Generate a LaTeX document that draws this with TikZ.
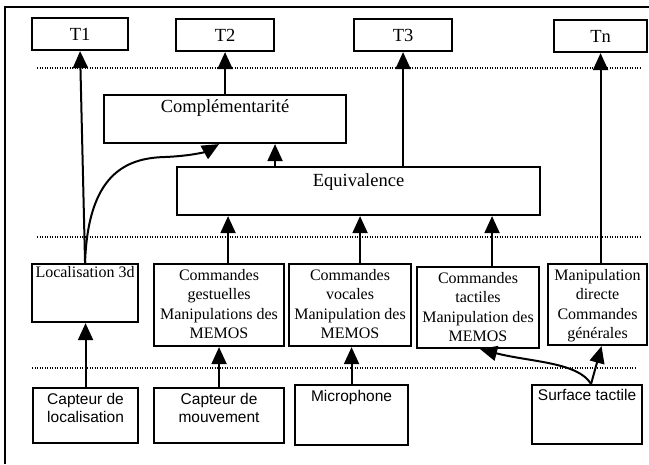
\documentclass[tikz,border=0pt]{standalone}
\usepackage{fontspec}
\setmainfont{Liberation Serif}
\newfontfamily\arialfont{Liberation Sans}
\usetikzlibrary{arrows.meta}
\begin{document}
\begin{tikzpicture}[x=1pt,y=-1pt,
  boxnode/.style={draw=black, line width=2.1pt, inner sep=0pt, anchor=north west},
  txt/.style={inner sep=0pt, anchor=north, align=center, font=\fontsize{16}{19.5}\selectfont},
  bigtxt/.style={font=\fontsize{18.5}{22}\selectfont},
  sanstxt/.style={inner sep=0pt, anchor=north, align=center, font=\arialfont\fontsize{15.5}{18}\selectfont},
  conn/.style={line width=2pt, -{Triangle[length=17pt,width=15pt]}},
  sep/.style={line width=1.1pt, dash pattern=on 1pt off 1.5pt}]
\useasboundingbox (0,0) rectangle (649,464);
% outer frame (cropped)
\coordinate (fa) at (5,464);
\coordinate (fb) at (5,7);
\coordinate (fc) at (649,7);
\draw[line width=1.8pt] (fa) -- (fb) -- (fc);
% top row
\node[boxnode, bigtxt, minimum width=96pt, minimum height=32pt] (t1) at (31,17) {T1};
\node[boxnode, bigtxt, minimum width=98pt, minimum height=32pt] (t2) at (175,18) {T2};
\node[boxnode, bigtxt, minimum width=98pt, minimum height=32pt] (t3) at (353,18) {T3};
\node[boxnode, bigtxt, minimum width=93pt, minimum height=32pt] (tn) at (553,19) {Tn};
% fusion boxes
\node[boxnode, minimum width=242pt, minimum height=48pt] (comp) at (103,94) {};
\node[txt, bigtxt, yshift=-5pt] (compl) at (comp.north) {Complémentarité};
\node[boxnode, minimum width=363pt, minimum height=48pt] (equiv) at (176,166) {};
\node[txt, bigtxt, yshift=-7pt] (equivl) at (equiv.north) {Equivalence};
% middle row
\node[boxnode, minimum width=106pt, minimum height=58pt] (loc) at (31,263) {};
\node[txt, yshift=-3pt] (locl) at (loc.north) {Localisation 3d};
\node[boxnode, minimum width=130pt, minimum height=82pt] (gest) at (153,263) {};
\node[txt, yshift=-6pt] (gestl) at (gest.north) {Commandes\\gestuelles\\Manipulations des\\MEMOS};
\node[boxnode, minimum width=122pt, minimum height=82pt] (voc) at (288,263) {};
\node[txt, yshift=-6pt] (vocl) at (voc.north) {Commandes\\vocales\\Manipulation des\\MEMOS};
\node[boxnode, minimum width=122pt, minimum height=81pt] (tact) at (416,266) {};
\node[txt, yshift=-6pt] (tactl) at (tact.north) {Commandes\\tactiles\\Manipulation des\\MEMOS};
\node[boxnode, minimum width=99pt, minimum height=81pt] (manip) at (547,263) {};
\node[txt, yshift=-6pt] (manipl) at (manip.north) {Manipulation\\directe\\Commandes\\générales};
% bottom row
\node[boxnode, minimum width=105pt, minimum height=55pt] (caploc) at (32,387) {};
\node[sanstxt, yshift=-6pt] (caplocl) at (caploc.north) {Capteur de\\localisation};
\node[boxnode, minimum width=130pt, minimum height=55pt] (capmouv) at (153,387) {};
\node[sanstxt, yshift=-6pt] (capmouvl) at (capmouv.north) {Capteur de\\mouvement};
\node[boxnode, minimum width=113pt, minimum height=60pt] (micro) at (294,384) {};
\node[sanstxt, yshift=-6pt] (microl) at (micro.north) {Microphone};
\node[boxnode, minimum width=110pt, minimum height=59pt] (surf) at (531,384) {};
\node[sanstxt, yshift=-5pt] (surfl) at (surf.north) {Surface tactile};
% dotted separators
\coordinate (d1a) at (37,68);  \coordinate (d1b) at (640,68);
\coordinate (d2a) at (37,237); \coordinate (d2b) at (640,237);
\coordinate (d3a) at (32,368); \coordinate (d3b) at (635,368);
\draw[sep] (d1a) -- (d1b);
\draw[sep] (d2a) -- (d2b);
\draw[sep] (d3a) -- (d3b);
% connectors bottom -> middle
\draw[conn] (caploc.north) -- (caploc.north |- loc.south);
\draw[conn] (capmouv.north) -- (capmouv.north |- gest.south);
\draw[conn] (micro.north) -- (micro.north |- voc.south);
\draw[conn] ([xshift=4pt]surf.north) .. controls (578,362) and (530,362) .. ([xshift=2pt]tact.south);
\draw[conn] ([xshift=4pt]surf.north) -- ([xshift=4pt]manip.south);
% middle -> fusion / tasks
\draw[conn] (loc.north) -- (t1.south);
\draw[conn] (loc.north) .. controls (88,175) and (125,158) .. (165,157) .. controls (190,156) and (205,152) .. ([xshift=-6pt]comp.south);
\draw[conn] ([xshift=9pt]gest.north) -- ([xshift=9pt]gest.north |- equiv.south);
\draw[conn] ([xshift=10pt]voc.north) -- ([xshift=10pt]voc.north |- equiv.south);
\draw[conn] ([xshift=14pt]tact.north) -- ([xshift=14pt]tact.north |- equiv.south);
\draw[conn] (tn.south |- manip.north) -- (tn.south);
\draw[conn] ([xshift=50pt]comp.south |- equiv.north) -- ([xshift=50pt]comp.south);
\draw[conn] (t3.south |- equiv.north) -- (t3.south);
\draw[conn] (comp.north) -- (t2.south);
\end{tikzpicture}
\end{document}
